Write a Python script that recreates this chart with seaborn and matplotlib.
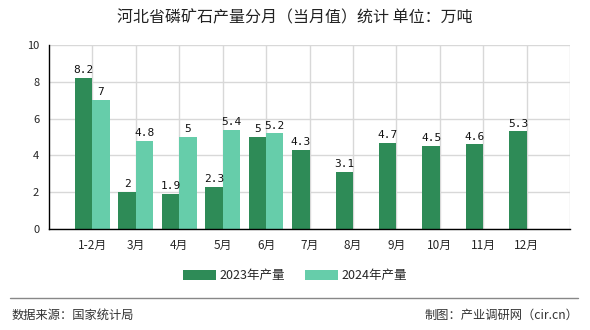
import matplotlib
matplotlib.use("Agg")
import matplotlib.pyplot as plt
import seaborn as sns
import pandas as pd
import numpy as np

months = ["1-2月", "3月", "4月", "5月", "6月", "7月", "8月", "9月", "10月", "11月", "12月"]
vals_2023 = [8.2, 2, 1.9, 2.3, 5, 4.3, 3.1, 4.7, 4.5, 4.6, 5.3]
vals_2024 = [7, 4.8, 5, 5.4, 5.2, None, None, None, None, None, None]
series = ["2023年产量", "2024年产量"]
colors = ["#2e8b57", "#66cdaa"]

sns.set_theme(style="white")
plt.rcParams["font.family"] = ["Noto Sans CJK SC", "DejaVu Sans"]

rows = []
for m, a, b in zip(months, vals_2023, vals_2024):
    rows.append({"月": m, "系列": series[0], "值": a})
    rows.append({"月": m, "系列": series[1], "值": np.nan if b is None else b})
df = pd.DataFrame(rows)

fig = plt.figure(figsize=(5.9, 3.3), dpi=100)
ax = fig.add_axes([49/590, 1-229/330, (570-49)/590, (229-45)/330])
sns.barplot(data=df, x="月", y="值", hue="系列", order=months, hue_order=series,
            palette=colors, width=0.8, ax=ax, legend=False, saturation=1,
            linewidth=0, edgecolor="none")

for cont in ax.containers:
    labels = []
    for v in cont.datavalues:
        if np.isnan(v):
            labels.append("")
        else:
            labels.append(f"{v:g}")
    ax.bar_label(cont, labels=labels, padding=2, fontsize=8,
                 family=["DejaVu Sans Mono"], color="#111")

ax.set_xlim(-1, 11)
ax.set_ylim(0, 10)
ax.set_yticks([0, 2, 4, 6, 8, 10])
ax.set_xticks(range(len(months)))
ax.set_xticklabels(months, fontsize=8.5)
ax.tick_params(axis="y", labelsize=8, length=4, width=1, color="#000", direction="out", pad=3)
ax.tick_params(axis="x", length=4, width=1, color="#000", direction="out", pad=3)
ax.set_xlabel("")
ax.set_ylabel("")
ax.grid(True, color="#d8d8d8", linewidth=1)
ax.set_axisbelow(True)
ax.axvline(11, color="#d8d8d8", linewidth=1, zorder=0)
for s in ["top", "right"]:
    ax.spines[s].set_visible(False)
ax.spines["left"].set_color("#000")
ax.spines["bottom"].set_color("#000")
ax.spines["left"].set_linewidth(1)
ax.spines["bottom"].set_linewidth(1)

fig.text(0.5, 1-18/330, "河北省磷矿石产量分月（当月值）统计 单位：万吨", ha="center", va="center",
         fontsize=11.5, color="#222")

from matplotlib.patches import Patch
handles = [Patch(facecolor=c, edgecolor="none") for c in colors]
fig.legend(handles, series, loc="center", bbox_to_anchor=(0.5, 1-276/330), ncol=2,
           frameon=False, fontsize=9, handlelength=2.6, handleheight=0.8, columnspacing=1.6,
           handletextpad=0.3)

fig.add_artist(plt.Line2D([10/590, 578/590], [1-298/330, 1-298/330], color="#888", linewidth=1))
fig.text(12/590, 1-315/330, "数据来源：国家统计局", ha="left", va="center", fontsize=8.8, color="#333")
fig.text(578/590, 1-315/330, "制图：产业调研网（cir.cn）", ha="right", va="center", fontsize=8.8, color="#333")

fig.savefig("out.png", dpi=100)
